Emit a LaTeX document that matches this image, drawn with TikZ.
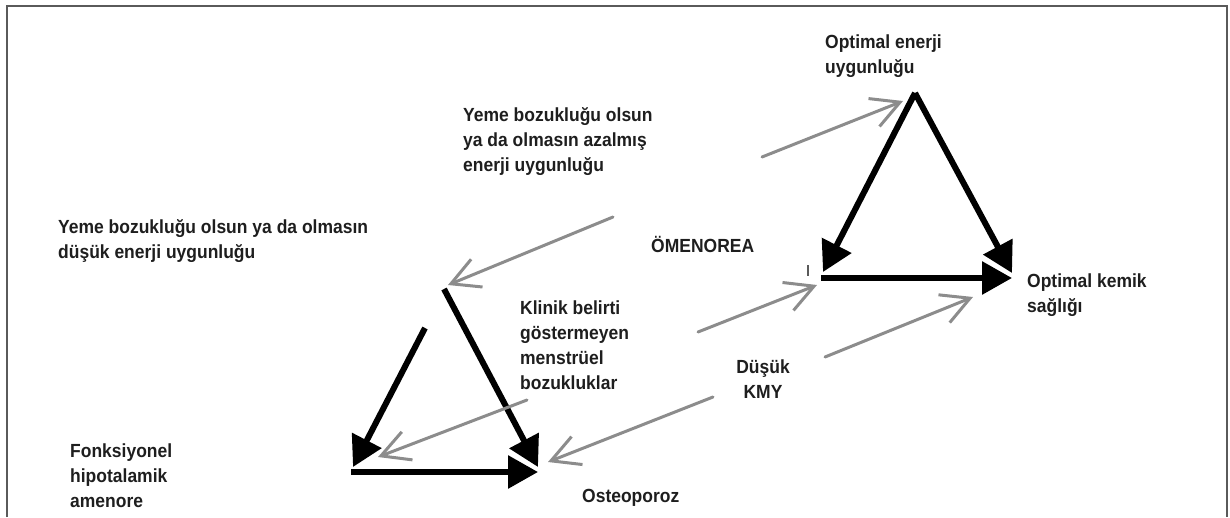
\documentclass[tikz,border=0pt]{standalone}
\usepackage{fontspec}
\setmainfont[FakeStretch=0.92]{Liberation Sans}
\usepackage{tikz}
\usetikzlibrary{arrows.meta}
\tikzset{every picture/.append style={font=\bfseries\fontsize{19}{25}\selectfont}}
\definecolor{framegray}{HTML}{5A5A5A}
\definecolor{arrowgray}{HTML}{8C8C8C}
\definecolor{textblack}{HTML}{1E1E1E}

\begin{document}
\begin{tikzpicture}[x=1pt,y=-1pt,
    lbl/.style={anchor=base west,align=left,inner sep=0pt,text=textblack},
    bigarr/.style={line width=6pt,-{Triangle[length=30pt,width=32pt]}},
    greyarr/.style={arrowgray,line width=3pt,line cap=round,-{Straight Barb[length=28pt,width=30pt]}}]
    \useasboundingbox (0,0) rectangle (1230,517);
    % frame, open at the bottom
    \draw[framegray,line width=2pt] (7,517) -- (7,6) -- (1227,6) -- (1227,517);

    % texts (base = last line)
    \node[lbl] (optenerji) at (825,73) {Optimal enerji\\uygunluğu};
    \node[lbl] (azalmis) at (463,171) {Yeme bozukluğu olsun\\ya da olmasın azalmış\\enerji uygunluğu};
    \node[lbl] (dusukenerji) at (58,258) {Yeme bozukluğu olsun ya da olmasın\\düşük enerji uygunluğu};
    \node[lbl] (omenorea) at (651,252) {ÖMENOREA};
    \node[lbl] (optkemik) at (1027,312) {Optimal kemik\\sağlığı};
    \node[lbl] (klinik) at (520,389) {Klinik belirti\\göstermeyen\\menstrüel\\bozukluklar};
    \node[lbl,anchor=base,align=center] (kmy) at (763,398) {Düşük\\KMY};
    \node[lbl] (fha) at (70,507) {Fonksiyonel\\hipotalamik\\amenore};
    \node[lbl] (osteo) at (582,502) {Osteoporoz};

    % lower triangle
    \coordinate (lowtop) at (444,289);
    \coordinate (lowgap) at (425,328);
    \coordinate (lowL) at (353,467);
    \coordinate (lowR) at (538,467);
    \coordinate (lowbl) at (351,472);
    \coordinate (lowbr) at (538,472);
    \draw[bigarr] (lowgap) -- (lowL);
    \draw[bigarr] (lowbl) -- (lowbr);
    \draw[bigarr] (lowtop) -- (lowR);
    \draw[white,line width=1.5pt] (511,453) -- (537,468);

    % upper triangle
    \coordinate (uptop) at (915,93);
    \coordinate (upL) at (823,272);
    \coordinate (upR) at (1012,273);
    \coordinate (upbl) at (821,278);
    \coordinate (upbr) at (1012,278);
    \draw[bigarr] (uptop) -- (upL);
    \draw[bigarr] (upbl) -- (upbr);
    \draw[bigarr] (uptop) -- (upR);
    \draw[white,line width=1.5pt] (982,259) -- (1009,274);
    \draw[framegray,line width=2pt] (808,265) -- (808,276);

    % grey arrows
    \coordinate (g1s) at (762,157); \coordinate (g1t) at (903,101);
    \coordinate (g2s) at (613,217); \coordinate (g2t) at (448,285);
    \coordinate (g3s) at (698,332); \coordinate (g3t) at (817,285);
    \coordinate (g4s) at (825,357); \coordinate (g4t) at (973,297);
    \coordinate (g5s) at (527,400); \coordinate (g5t) at (378,457);
    \coordinate (g6s) at (713,397); \coordinate (g6t) at (548,462);
    \foreach \g in {1,...,6} {\draw[greyarr] (g\g s) -- (g\g t);}
\end{tikzpicture}
\end{document}
